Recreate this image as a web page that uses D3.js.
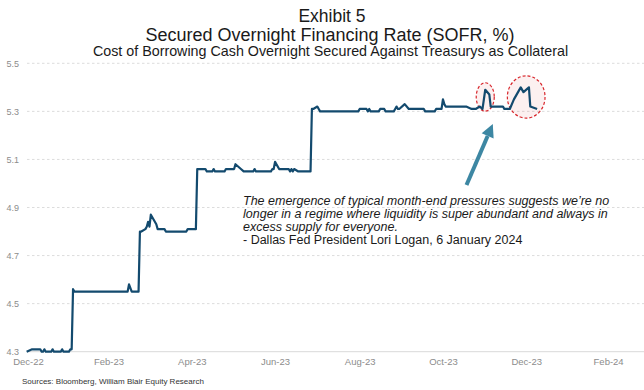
<!DOCTYPE html>
<html>
<head>
<meta charset="utf-8">
<script src="https://cdn.jsdelivr.net/npm/d3@7/dist/d3.min.js"></script>
<style>
  html, body { margin: 0; padding: 0; background: #fff; }
  svg { display: block; font-family: Arial, "Liberation Sans", Helvetica, sans-serif; }
</style>
</head>
<body>
<svg id="chart" width="644" height="390"></svg>
<script>
// Daily SOFR fixings (%), listed at each business day where the rate moves
const dates = [
  "2022-12-30","2023-01-03","2023-01-09","2023-01-10","2023-01-11","2023-01-12","2023-01-13",
  "2023-01-17","2023-01-18","2023-01-19","2023-01-24","2023-01-25","2023-01-26","2023-01-30",
  "2023-01-31","2023-02-01","2023-02-02","2023-02-03","2023-03-14","2023-03-15","2023-03-17",
  "2023-03-22","2023-03-23","2023-03-24","2023-03-27","2023-03-28","2023-03-29","2023-03-30",
  "2023-03-31","2023-04-04","2023-04-05","2023-04-10","2023-04-11","2023-04-26","2023-04-27",
  "2023-05-03","2023-05-04","2023-05-10","2023-05-11","2023-05-15","2023-05-16","2023-05-17",
  "2023-05-24","2023-05-25","2023-05-31","2023-06-01","2023-06-05","2023-06-07","2023-06-14",
  "2023-06-15","2023-06-16","2023-06-27","2023-06-28","2023-06-29","2023-06-30","2023-07-03",
  "2023-07-10","2023-07-11","2023-07-12","2023-07-13","2023-07-14","2023-07-17","2023-07-26",
  "2023-07-27","2023-07-28","2023-07-31","2023-08-01","2023-08-02","2023-08-30","2023-08-31",
  "2023-09-05","2023-09-06","2023-09-07","2023-09-08","2023-09-14","2023-09-15","2023-09-18",
  "2023-09-19","2023-09-25","2023-09-26","2023-09-27","2023-09-28","2023-09-29","2023-10-03",
  "2023-10-06","2023-10-17","2023-10-18","2023-10-25","2023-10-26","2023-10-30","2023-10-31",
  "2023-11-01","2023-11-02","2023-11-17","2023-11-21","2023-11-24","2023-11-27","2023-11-29",
  "2023-11-30","2023-12-01","2023-12-04","2023-12-05","2023-12-14","2023-12-15","2023-12-19",
  "2023-12-22","2023-12-27","2023-12-29","2024-01-02","2024-01-03","2024-01-08"
];
const sofr = [
  4.30,4.31,4.31,4.30,4.30,4.31,4.30,
  4.30,4.31,4.30,4.30,4.31,4.30,4.30,
  4.31,4.31,4.56,4.55,4.55,4.58,4.55,
  4.55,4.80,4.80,4.81,4.82,4.84,4.82,
  4.87,4.83,4.81,4.81,4.80,4.80,4.81,
  4.81,5.06,5.06,5.05,5.05,5.06,5.05,
  5.05,5.06,5.06,5.08,5.06,5.05,5.05,
  5.06,5.05,5.05,5.06,5.06,5.09,5.06,
  5.06,5.05,5.06,5.05,5.06,5.05,5.05,
  5.31,5.31,5.32,5.31,5.30,5.30,5.31,
  5.31,5.30,5.31,5.30,5.30,5.31,5.31,
  5.30,5.30,5.31,5.32,5.31,5.31,5.33,
  5.31,5.31,5.30,5.30,5.31,5.31,5.35,
  5.33,5.32,5.32,5.31,5.31,5.32,5.31,
  5.35,5.39,5.37,5.32,5.32,5.31,5.31,
  5.35,5.40,5.38,5.40,5.32,5.31
];

// Axis ticks
const yTicks = [4.3, 4.5, 4.7, 4.9, 5.1, 5.3, 5.5];
const xTickDates = ["2022-12-31","2023-02-28","2023-04-30","2023-06-30","2023-08-31","2023-10-31","2023-12-31","2024-02-29"];

// Month-end spikes picked out on the chart (centre date and level)
const spikeDates = ["2023-12-01", "2023-12-31"];
const spikeLevels = [5.36, 5.36];

const titleLines = ["Exhibit 5", "Secured Overnight Financing Rate (SOFR, %)"];
const subtitle = "Cost of Borrowing Cash Overnight Secured Against Treasurys as Collateral";
const quoteLines = [
  "The emergence of typical month-end pressures suggests we\u2019re no",
  "longer in a regime where liquidity is super abundant and always in",
  "excess supply for everyone."
];
const attribution = "- Dallas Fed President Lori Logan, 6 January 2024";
const source = "Sources: Bloomberg, William Blair Equity Research";

const parse = d3.timeParse("%Y-%m-%d");
const series = dates.map((d, i) => ({ date: parse(d), value: sofr[i] }));

const svg = d3.select("#chart");
const W = 644;

const x = d3.scaleTime()
  .domain([parse("2022-12-31"), parse("2024-03-31")])
  .range([28, 650.4]);
const y = d3.scaleLinear()
  .domain([4.3, 5.5])
  .range([351.7, 63.3]);

// Titles
svg.append("text").attr("x", 332).attr("y", 22.3).attr("text-anchor", "middle")
  .attr("font-size", 17.5).attr("fill", "#1a1a1a").text(titleLines[0]);
svg.append("text").attr("x", 330).attr("y", 40.5).attr("text-anchor", "middle")
  .attr("font-size", 18).attr("fill", "#1a1a1a").text(titleLines[1]);
svg.append("text").attr("x", 330.5).attr("y", 56.3).attr("text-anchor", "middle")
  .attr("font-size", 14.3).attr("fill", "#1a1a1a").text(subtitle);

// Horizontal gridlines
svg.append("g").selectAll("line")
  .data(yTicks.filter(t => t !== 4.3))
  .join("line")
  .attr("x1", 27).attr("x2", W)
  .attr("y1", d => y(d)).attr("y2", d => y(d))
  .attr("stroke", "#dcdcdc").attr("stroke-width", 1)
  .attr("stroke-dasharray", "2.5,2.5");

// Y axis labels
const yAxis = d3.axisLeft(y).tickValues(yTicks).tickFormat(d3.format(".1f")).tickSize(0).tickPadding(0);
const gy = svg.append("g").attr("transform", "translate(19,0)").call(yAxis);
gy.select(".domain").remove();
gy.selectAll("text").attr("font-size", 9).attr("fill", "#8c8c8c")
  .attr("font-family", "Arial, 'Liberation Sans', sans-serif");

// X axis
const xAxis = d3.axisBottom(x)
  .tickValues(xTickDates.map(parse))
  .tickFormat(d3.timeFormat("%b-%y"))
  .tickSize(0).tickPadding(7);
const gx = svg.append("g").attr("transform", `translate(0,${y(4.3)})`).call(xAxis);
gx.select(".domain").attr("stroke", "#d9d9d9").attr("d", `M27,0H${W}`);
gx.selectAll("text").attr("font-size", 9.5).attr("fill", "#8c8c8c")
  .attr("font-family", "Arial, 'Liberation Sans', sans-serif");

// Dashed ellipses around the month-end spikes
const spikeHalfDays = [6.6, 13.8];
const spikeHalfRange = [0.059, 0.088];
const day = 24 * 3600 * 1000;
svg.append("g").selectAll("ellipse")
  .data(spikeDates.map((d, i) => ({ date: parse(d), level: spikeLevels[i], i })))
  .join("ellipse")
  .attr("cx", d => x(d.date))
  .attr("cy", d => y(d.level))
  .attr("rx", d => x(new Date(+d.date + spikeHalfDays[d.i] * day)) - x(d.date))
  .attr("ry", d => y(d.level - spikeHalfRange[d.i]) - y(d.level))
  .attr("fill", "rgba(214,60,60,0.08)")
  .attr("stroke", "#d8262c")
  .attr("stroke-width", 1.2)
  .attr("stroke-dasharray", "3,2");

// SOFR line
const line = d3.line().x(d => x(d.date)).y(d => y(d.value));
svg.append("path")
  .datum(series)
  .attr("d", line)
  .attr("fill", "none")
  .attr("stroke", "#134a6e")
  .attr("stroke-width", 2.2)
  .attr("stroke-linejoin", "round");

// Arrow pointing at the month-end spikes
const arrowColor = "#3d87a3";
const tail = [466.5, 185], tip = [492.8, 124];
const ang = Math.atan2(tip[1] - tail[1], tip[0] - tail[0]);
const headLen = 13, headHalf = 6.5;
const base = [tip[0] - headLen * Math.cos(ang), tip[1] - headLen * Math.sin(ang)];
svg.append("line")
  .attr("x1", tail[0]).attr("y1", tail[1])
  .attr("x2", base[0]).attr("y2", base[1])
  .attr("stroke", arrowColor).attr("stroke-width", 4);
svg.append("path")
  .attr("d", d3.line()([
    tip,
    [base[0] + headHalf * Math.sin(ang), base[1] - headHalf * Math.cos(ang)],
    [base[0] - headHalf * Math.sin(ang), base[1] + headHalf * Math.cos(ang)]
  ]) + "Z")
  .attr("fill", arrowColor);

// Quote
const q = svg.append("g").attr("font-size", 12.5).attr("fill", "#1a1a1a");
quoteLines.forEach((t, i) => {
  q.append("text").attr("x", 243).attr("y", 204.5 + i * 13.3)
    .attr("font-style", "italic").text(t);
});
q.append("text").attr("x", 243).attr("y", 204.5 + 3 * 13.3).text(attribution);

// Source
svg.append("text").attr("x", 22).attr("y", 384)
  .attr("font-size", 8).attr("fill", "#333").text(source);
</script>
</body>
</html>
